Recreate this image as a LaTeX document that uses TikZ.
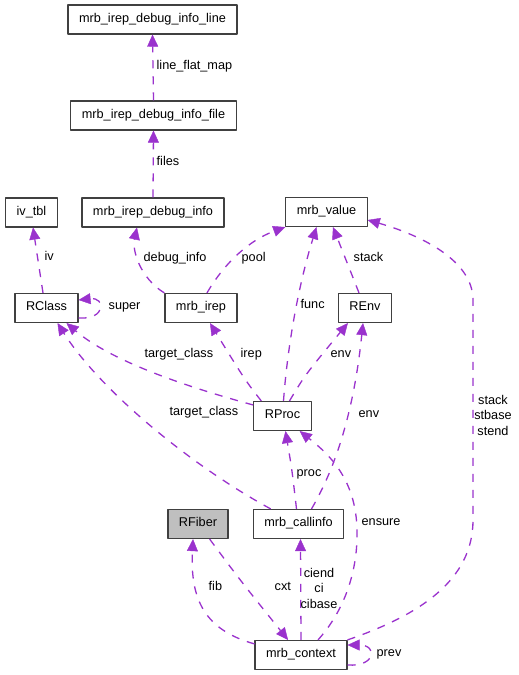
\documentclass[tikz,border=0pt]{standalone}
\usepackage{fontspec}
\setmainfont{Liberation Sans}
\usetikzlibrary{arrows.meta,calc}
\definecolor{edgepurple}{HTML}{9A32CD}
\definecolor{fibergray}{HTML}{BFBFBF}
\begin{document}
\begin{tikzpicture}[x=1pt,y=-1pt,line join=round,
    font=\fontsize{12.7}{15.5}\selectfont,
    box/.style={draw=black!75,line width=1.2pt,minimum height=29pt,inner xsep=11pt,
        text height=0.72em,text depth=0.22em},
    edge/.style={draw=edgepurple,line width=1.3pt,dash pattern=on 8pt off 8pt,
        -{Triangle[length=12pt,width=11pt,fill=edgepurple,line width=0.4pt,sep=0pt]}},
    lbl/.style={inner sep=0pt,anchor=west,text height=0.72em,text depth=0.22em},
    lblc/.style={inner sep=0pt,align=center}]
\useasboundingbox (0,0) rectangle (519,675);
% classes
\node[box] (line) at (152.5,19.5) {mrb\_irep\_debug\_info\_line};
\node[box] (file) at (153.5,115.5) {mrb\_irep\_debug\_info\_file};
\node[box] (ivtbl) at (31.5,212.5) {iv\_tbl};
\node[box] (dbginfo) at (153,212.5) {mrb\_irep\_debug\_info};
\node[box] (value) at (326.5,212) {mrb\_value};
\node[box] (rclass) at (46.5,308) {RClass};
\node[box] (irep) at (201,308) {mrb\_irep};
\node[box] (renv) at (365,308) {REnv};
\node[box] (rproc) at (282.5,416) {RProc};
\node[box,fill=fibergray] (rfiber) at (198,524) {RFiber};
\node[box] (callinfo) at (298.5,524) {mrb\_callinfo};
\node[box] (context) at (301,655) {mrb\_context};
% debug info chain
\draw[edge] (file.north) -- (line.south) node[lbl] at (156,67) {line\_flat\_map};
\draw[edge] (dbginfo.north) -- (file.south) node[lbl] at (156,163) {files};
\draw[edge] ($(rclass.north)+(-3.5,0)$) -- ($(ivtbl.south)+(1.5,0)$) node[lbl] at (44,258) {iv};
\draw[edge] (irep.north west) .. controls (140,278) and (132,250) .. ($(dbginfo.south)+(-16,0)$)
    node[lbl] at (143,259) {debug\_info};
\draw[edge] ($(irep.north)+(6,0)$) .. controls (225,262) and (250,240) .. (value.south west)
    node[lbl] at (241,259) {pool};
\draw[edge] ($(rclass.east)+(0,10)$) .. controls (106,320) and (106,297) .. ($(rclass.east)+(0,-8)$)
    node[lbl] at (108,307) {super};
% RProc and REnv
\draw[edge] ($(rproc.north)+(1,0)$) .. controls (288,340) and (300,280) .. ($(value.south)+(-10,0)$)
    node[lbl] at (300,306) {func};
\draw[edge] ($(renv.north)+(-6,0)$) .. controls (350,270) .. ($(value.south)+(6.5,0)$)
    node[lbl] at (353,259) {stack};
\draw[edge] ($(rproc.west)+(0,-11)$) .. controls (180,385) and (110,360) .. ($(rclass.south)+(20,0)$)
    node[lbl] at (144,355) {target\_class};
\draw[edge] ($(rproc.north west)+(8,0)$) .. controls (245,380) .. ($(irep.south)+(9,0)$)
    node[lbl] at (240,355) {irep};
\draw[edge] ($(rproc.north)+(7,0)$) .. controls (305,375) .. ($(renv.south west)+(10,0)$)
    node[lbl] at (330,355) {env};
% mrb_callinfo
\draw[edge] ($(callinfo.north west)+(18,0)$) .. controls (190,465) and (100,390) .. ($(rclass.south)+(11,0)$)
    node[lbl] at (169,413) {target\_class};
\draw[edge] ($(callinfo.north)+(13,0)$) .. controls (340,460) and (355,400) .. ($(renv.south)+(-2,0)$)
    node[lbl] at (358,415) {env};
\draw[edge] ($(callinfo.north)+(-2,0)$) .. controls (292,470) .. ($(rproc.south)+(3,0)$)
    node[lbl] at (296,474) {proc};
% mrb_context
\draw[edge] ($(context.north)+(17,0)$) .. controls (345,610) and (358,570) .. (357,530)
    .. controls (356,480) and (330,455) .. ($(rproc.south east)+(-12,0)$)
    node[lbl] at (361,523) {ensure};
\draw[edge] (context.north east) .. controls (420,615) and (473,580) .. (473,520) -- (473,300)
    .. controls (473,260) and (420,235) .. ($(value.east)+(0,8)$)
    node[lblc] at (493,415) {stack\\stbase\\stend};
\draw[edge] (context.north) -- ($(callinfo.south)+(2,0)$)
    node[lblc] at (319,588) {ciend\\ci\\cibase};
\draw[edge] ($(context.north west)+(0,4)$) .. controls (205,630) and (190,600) .. ($(rfiber.south)+(-5,0)$)
    node[lbl] at (208,588) {fib};
\draw[edge] ($(rfiber.south east)+(-19,0)$) .. controls (240,580) .. ($(context.north)+(-13,0)$)
    node[lbl] at (274,588) {cxt};
\draw[edge] ($(context.east)+(0,10)$) .. controls (376,667) and (378,645) .. ($(context.east)+(0,-10)$)
    node[lbl] at (376,654) {prev};
\end{tikzpicture}
\end{document}
